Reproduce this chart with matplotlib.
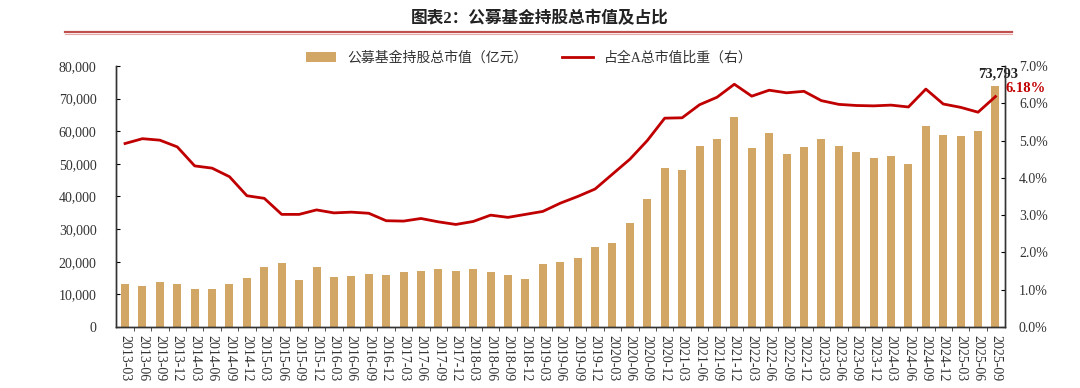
import matplotlib
matplotlib.use('Agg')
import matplotlib.pyplot as plt
from matplotlib.lines import Line2D
from matplotlib.ticker import FuncFormatter, MultipleLocator
import numpy as np

plt.rcParams['font.family'] = ['Liberation Serif', 'Noto Sans CJK SC']
plt.rcParams['axes.unicode_minus'] = False

# 季度标签 2013-03 ~ 2025-09
quarters = ['%d-%02d' % (y, m) for y in range(2013, 2026) for m in (3, 6, 9, 12)][:51]

# 公募基金持股总市值（亿元）
holdings = [13300, 12500, 13900, 13100, 11600, 11800, 13100, 15100, 18400, 19700,
            14300, 18400, 15400, 15700, 16300, 16000, 16800, 17200, 17900, 17300,
            17700, 16800, 16000, 14700, 19400, 20000, 21100, 24500, 25600, 32000,
            39200, 48600, 48100, 55600, 57500, 64300, 54900, 59600, 52900, 55300,
            57500, 55600, 53700, 51900, 52300, 50100, 61700, 58700, 58500, 60100,
            73793]

# 占全A总市值比重（%）
share = [4.92, 5.05, 5.01, 4.83, 4.32, 4.26, 4.03, 3.52, 3.45, 3.02,
         3.02, 3.14, 3.06, 3.08, 3.05, 2.85, 2.84, 2.91, 2.82, 2.75,
         2.83, 3.00, 2.94, 3.02, 3.10, 3.32, 3.50, 3.70, 4.10, 4.50,
         5.00, 5.60, 5.61, 5.96, 6.16, 6.51, 6.19, 6.35, 6.28, 6.32,
         6.07, 5.97, 5.94, 5.93, 5.95, 5.90, 6.38, 5.98, 5.89, 5.76,
         6.18]

bar_color = '#D2A664'
line_color = '#C00000'
txt_color = '#333333'

fig = plt.figure(figsize=(10.8, 3.88), dpi=100, facecolor='white')
ax = fig.add_axes([0.1074, 0.1572, 0.8232, 0.6728])
ax2 = ax.twinx()

x = np.arange(len(quarters))
b = ax.bar(x, holdings, width=0.46, color=bar_color, label='公募基金持股总市值（亿元）', zorder=2)
l, = ax2.plot(x, share, color=line_color, lw=2.0, label='占全A总市值比重（右）', zorder=3)

ax.set_xlim(-0.52, len(quarters) - 0.45)
ax.set_ylim(0, 80000)
ax.yaxis.set_major_locator(MultipleLocator(10000))
ax.yaxis.set_major_formatter(FuncFormatter(lambda v, p: '{:,.0f}'.format(v)))
ax2.set_ylim(0, 7)
ax2.yaxis.set_major_locator(MultipleLocator(1))
ax2.yaxis.set_major_formatter(FuncFormatter(lambda v, p: '%.1f%%' % v))

ax.set_xticks(x)
ax.set_xticklabels(quarters, rotation=-90, fontsize=10, color=txt_color)
ax.set_xticks(x[:-1] + 0.5, minor=True)
ax.tick_params(axis='x', which='major', length=0, pad=6)
ax.tick_params(axis='x', which='minor', length=3, direction='out', color=txt_color)
ax.tick_params(axis='y', labelsize=10, labelcolor=txt_color, length=3, direction='in', pad=14)
ax2.tick_params(axis='y', labelsize=10, labelcolor=txt_color, length=3, direction='in', pad=10)

for a in (ax, ax2):
    a.spines['top'].set_visible(False)
    for s in ('left', 'right', 'bottom'):
        a.spines[s].set_color(txt_color)
        a.spines[s].set_linewidth(1.0)

# 末值标注
ax.annotate('{:,}'.format(holdings[-1]), xy=(x[-1], holdings[-1]), xytext=(2, 4),
            textcoords='offset points', ha='center', va='bottom',
            fontsize=10.5, fontweight='bold', color='#222222')
ax2.annotate('%.2f%%' % share[-1], xy=(x[-1], share[-1]), xytext=(7, 6),
             textcoords='offset points', ha='left', va='center',
             fontsize=10.5, fontweight='bold', color=line_color)

# 标题与下划线
fig.text(0.5, 0.952, '图表2：公募基金持股总市值及占比', ha='center', va='center',
         fontsize=12, fontweight='bold', color='#222222')
fig.add_artist(Line2D([0.06, 0.937], [0.918, 0.918], color='#C0504D', lw=1.6))
fig.add_artist(Line2D([0.06, 0.937], [0.912, 0.912], color='#E8A8A8', lw=0.8))

fig.legend(handles=[b, l], loc='center', bbox_to_anchor=(0.49, 0.85), ncol=2,
           frameon=False, fontsize=10, handlelength=2.2, columnspacing=2.5,
           labelcolor=txt_color)

fig.savefig('out.png', dpi=100)
